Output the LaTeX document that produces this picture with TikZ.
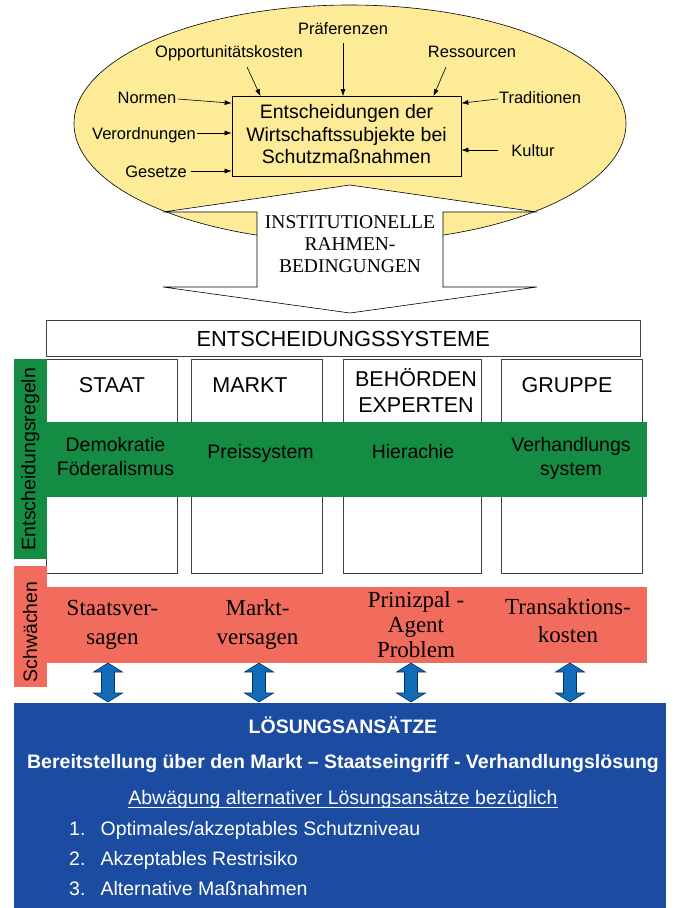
\documentclass[tikz,border=0pt]{standalone}
\usepackage{fontspec}
\setmainfont{Liberation Sans}
\newfontfamily\seriffont{Liberation Serif}
\usetikzlibrary{shapes.geometric,arrows.meta,calc}
\definecolor{ellyellow}{HTML}{FDEB97}
\definecolor{bandgreen}{HTML}{158C44}
\definecolor{bandred}{HTML}{F26C5E}
\definecolor{boxblue}{HTML}{1B4CA1}
\definecolor{arrowblue}{HTML}{106CB8}
\definecolor{arrowedge}{HTML}{0A2F5C}
\newcommand{\mlines}[1]{\begin{tabular}[t]{@{}c@{}}#1\end{tabular}}
\newcommand{\mlinesc}[1]{\begin{tabular}{@{}c@{}}#1\end{tabular}}
\begin{document}
\begin{tikzpicture}[x=1pt,y=-1pt,
  lbl/.style={font=\fontsize{16.5}{19}\selectfont, inner sep=1pt, anchor=base},
  arr/.style={-{Latex[length=7pt,width=5pt]}, line width=0.6pt},
  colbox/.style={draw=black!75, line width=0.7pt, fill=white, inner sep=0, minimum height=214pt},
  head/.style={font=\fontsize{21.5}{26}\selectfont, anchor=base, inner sep=0},
  rulet/.style={font=\fontsize{19.5}{24}\selectfont, anchor=base, inner sep=0},
  weak/.style={font=\seriffont\fontsize{23}{29.5}\selectfont, anchor=base, inner sep=0},
  sol/.style={font=\fontsize{19.5}{22}\selectfont, text=white, anchor=base, inner sep=0},
  band/.style={draw=none, inner sep=0},
  pics/dblarrow/.style={code={
    \draw[fill=arrowblue, draw=arrowedge, line width=0.6pt]
      (0,0) -- (-14.5,9) -- (-6.5,9) -- (-6.5,30) -- (-14.5,30) -- (0,39)
      -- (14.5,30) -- (6.5,30) -- (6.5,9) -- (14.5,9) -- cycle;}}
]
\path[fill=white] (0,0) rectangle (676,908);
\useasboundingbox (0,0) rectangle (676,908);

% ---- ellipse with influences ----
\node[ellipse, draw, line width=0.6pt, fill=ellyellow, minimum width=552pt, minimum height=237pt, inner sep=0] (ell) at (350,123.5) {};
\node[draw, line width=0.7pt, fill=ellyellow, minimum width=229pt, minimum height=80pt, inner sep=0,
      font=\fontsize{19.5}{22.5}\selectfont] (dec) at (346.5,136.5)
      {\mlinesc{Entscheidungen der\\Wirtschaftssubjekte bei\\Schutzmaßnahmen}};

\node[lbl] (praef) at (343,34) {Präferenzen};
\node[lbl] (opp) at (229,57) {Opportunitätskosten};
\node[lbl] (res) at (472,57) {Ressourcen};
\node[lbl] (norm) at (147,103) {Normen};
\node[lbl] (verord) at (144,139) {Verordnungen};
\node[lbl] (ges) at (156,177) {Gesetze};
\node[lbl] (trad) at (540,103) {Traditionen};
\node[lbl] (kult) at (533,156) {Kultur};

\draw[arr] ($(praef.base)+(0,9)$) -- (praef.base |- dec.north);
\draw[arr] ($(opp.base)+(18,10)$) -- ($(dec.north)+(-86,0)$);
\draw[arr] ($(res.base)+(-26,10)$) -- ($(dec.north)+(87,0)$);
\draw[arr] ($(norm.base east)+(0,-4)$) -- ($(dec.north west)+(0,7)$);
\draw[arr] ($(verord.base east)+(0,-6)$) -- ($(dec.west |- verord.base)+(0,-6)$);
\draw[arr] ($(ges.base east)+(3,-6)$) -- ($(dec.west |- ges.base)+(0,-6)$);
\draw[arr] ($(trad.base west)+(0,-4)$) -- ($(dec.north east)+(0,7)$);
\draw[arr] ($(kult.base west)+(-12,-6)$) -- ($(dec.east |- kult.base)+(0,-6)$);

% ---- institutional arrow ----
\draw[fill=white, line width=0.6pt] (350,185) -- (163,212) -- (257,212) -- (257,287) -- (163,287)
  -- (350,313) -- (537,287) -- (443,287) -- (443,212) -- (537,212) -- cycle;
\node[font=\seriffont\fontsize{19.5}{22}\selectfont, anchor=base, inner sep=0] (inst) at (350,228)
  {\mlines{INSTITUTIONELLE\\RAHMEN-\\BEDINGUNGEN}};

% ---- decision systems ----
\node[draw=black!75, line width=0.8pt, fill=white, minimum width=593.5pt, minimum height=36pt, inner sep=0,
      font=\fontsize{21.8}{26}\selectfont] (es) at (343.25,338.7) {ENTSCHEIDUNGSSYSTEME};

\node[colbox, minimum width=131.1pt] (c1) at (112.05,466.3) {};
\node[colbox, minimum width=131pt] (c2) at (256.5,466.3) {};
\node[colbox, minimum width=138.5pt] (c3) at (412.25,466.3) {};
\node[colbox, minimum width=141pt] (c4) at (571.5,466.3) {};

\node[head] (staat) at (112,392) {STAAT};
\node[head] (markt) at (250,392) {MARKT};
\node[head, font=\fontsize{21.5}{26}\selectfont] (beh) at (416,386) {\mlines{BEHÖRDEN\\EXPERTEN}};
\node[head] (grp) at (567,392) {GRUPPE};

% green band
\node[band, fill=bandgreen, minimum width=600pt, minimum height=75pt] (gband) at (346.5,459.5) {};
\node[band, fill=bandgreen, rotate=90, minimum width=200pt, minimum height=32.5pt,
      font=\fontsize{19.5}{22}\selectfont] (glab) at (30.25,459) {Entscheidungsregeln};
\node[rulet] (demo) at (115.5,451) {\mlines{Demokratie\\Föderalismus}};
\node[rulet] (preis) at (260.5,458) {Preissystem};
\node[rulet] (hier) at (413,458) {Hierachie};
\node[rulet] (verh) at (571,451) {\mlines{Verhandlungs\\system}};

% red band
\node[band, fill=bandred, minimum width=600pt, minimum height=76pt] (rband) at (346.5,624.7) {};
\node[band, fill=bandred, rotate=90, minimum width=121pt, minimum height=32.5pt,
      font=\fontsize{19.5}{22}\selectfont] (rlab) at (30.25,626.5) {Schwächen\hspace*{11pt}};
\node[weak] (w1) at (112.5,615) {\mlines{Staatsver-\\sagen}};
\node[weak] (w2) at (257.5,615) {\mlines{Markt-\\versagen}};
\node[weak, font=\seriffont\fontsize{23}{25}\selectfont] (w3) at (416,607) {\mlines{Prinizpal -\\Agent\\Problem}};
\node[weak, font=\seriffont\fontsize{23}{28}\selectfont] (w4) at (568,614) {\mlines{Transaktions-\\kosten}};

% blue arrows
\pic at (108,663) {dblarrow};
\pic at (259,663) {dblarrow};
\pic at (411,663) {dblarrow};
\pic at (570,663) {dblarrow};

% solution box
\node[band, fill=boxblue, minimum width=652pt, minimum height=205pt] (sbox) at (340,805.5) {};
\node[sol, font=\bfseries\fontsize{19.5}{22}\selectfont] (s1) at (343,733) {LÖSUNGSANSÄTZE};
\node[sol, font=\bfseries\fontsize{19.5}{22}\selectfont] (s2) at (343,768) {Bereitstellung über den Markt – Staatseingriff - Verhandlungslösung};
\node[sol] (abw) at (343,804) {Abwägung alternativer Lösungsansätze bezüglich};
\draw[white, line width=0.9pt] ($(abw.base west)+(0,3)$) -- ($(abw.base east)+(0,3)$);
\node[sol, anchor=base west] (i1) at (69,835) {\makebox[31.4pt][l]{1.}Optimales/akzeptables Schutzniveau};
\node[sol, anchor=base west] (i2) at (69,865) {\makebox[31.4pt][l]{2.}Akzeptables Restrisiko};
\node[sol, anchor=base west] (i3) at (69,895) {\makebox[31.4pt][l]{3.}Alternative Maßnahmen};
\end{tikzpicture}
\end{document}
